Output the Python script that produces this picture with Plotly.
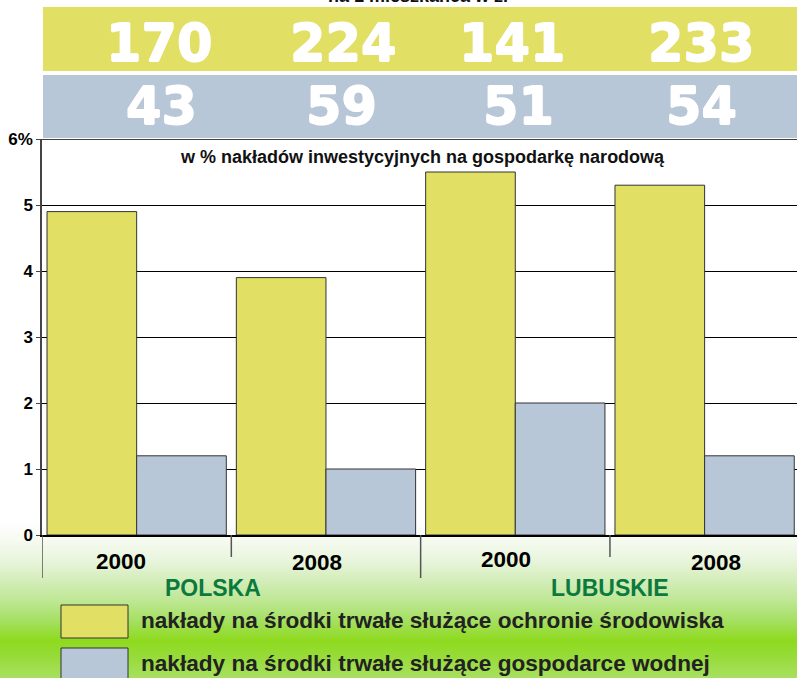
import plotly.graph_objects as go

# ---------------- data ----------------
regions = ["POLSKA", "LUBUSKIE"]
years = ["2000", "2008", "2000", "2008"]
series_names = [
    "nakłady na środki trwałe służące ochronie środowiska",
    "nakłady na środki trwałe służące gospodarce wodnej",
]
env_pct = [4.9, 3.9, 5.5, 5.3]
water_pct = [1.2, 1.0, 2.0, 1.2]
env_per_capita = [170, 224, 141, 233]
water_per_capita = [43, 59, 51, 54]
y_tickvals = [0, 1, 2, 3, 4, 5, 6]
y_ticktext = ["0", "1", "2", "3", "4", "5", "6%"]
subtitle = "w % nakładów inwestycyjnych na gospodarkę narodową"
top_title = "na 1 mieszkańca w zł"

# ---------------- style ----------------
YELLOW = "#e1e064"
BLUE = "#b8c7d8"
GREEN_TXT = "#0b7a3e"
W, H = 797, 678
L, R, T, B = 42, 797, 139, 535
PW, PH = R - L, B - T
FONT = "Liberation Sans"
THICK = "0.7px 0 0 white, -0.7px 0 0 white, 0 0.7px 0 white, 0 -0.7px 0 white"


def xp(px):
    return (px - L) / PW


def yp(py):
    return (B - py) / PH


x = list(range(len(years)))

fig = go.Figure()
fig.add_trace(go.Bar(x=x, y=env_pct, name=series_names[0], marker_color=YELLOW,
                     marker_line_color="#333333", marker_line_width=1))
fig.add_trace(go.Bar(x=x, y=water_pct, name=series_names[1], marker_color=BLUE,
                     marker_line_color="#333333", marker_line_width=1))

shapes = []
# background gradient at bottom
stops = [(522, (255, 255, 255)), (540, (246, 250, 240)), (560, (232, 245, 220)),
         (580, (212, 237, 186)), (600, (190, 231, 148)), (620, (165, 224, 98)),
         (640, (143, 218, 30)), (655, (150, 219, 55)), (678, (168, 224, 96))]
for py in range(stops[0][0], H):
    for (a, ca), (b, cb) in zip(stops[:-1], stops[1:]):
        if a <= py <= b:
            t = (py - a) / (b - a)
            c = tuple(round(ca[i] + (cb[i] - ca[i]) * t) for i in range(3))
            break
    shapes.append(dict(type="rect", xref="paper", yref="paper", layer="below",
                       x0=xp(0), x1=xp(W), y0=yp(py + 1), y1=yp(py),
                       fillcolor="rgb(%d,%d,%d)" % c, line_width=0))

# header bands
shapes.append(dict(type="rect", xref="paper", yref="paper", x0=xp(43), x1=xp(W),
                   y0=yp(71), y1=yp(7), fillcolor=YELLOW, line_width=0))
shapes.append(dict(type="rect", xref="paper", yref="paper", x0=xp(43), x1=xp(W),
                   y0=yp(138), y1=yp(75), fillcolor=BLUE, line_width=0))
# top border line at 6
shapes.append(dict(type="line", xref="paper", yref="y", x0=0, x1=1, y0=6, y1=6,
                   line=dict(color="black", width=1.5)))
# category separators below the axis
sep_len = [578, 557, 578, 557]
for i, ylen in enumerate(sep_len):
    shapes.append(dict(type="line", xref="x", yref="paper", x0=i - 0.5, x1=i - 0.5,
                       y0=yp(B), y1=yp(ylen), line=dict(color="#555555", width=1.5)))
# legend boxes
shapes.append(dict(type="rect", xref="paper", yref="paper", x0=xp(61), x1=xp(128),
                   y0=yp(638), y1=yp(605), fillcolor=YELLOW,
                   line=dict(color="#333333", width=1)))
shapes.append(dict(type="rect", xref="paper", yref="paper", x0=xp(61), x1=xp(128),
                   y0=yp(692), y1=yp(648), fillcolor=BLUE,
                   line=dict(color="#333333", width=1)))

ann = []
# per-capita numbers in header bands
top_shift = [22, 17, -3, -4]
bot_shift = [25, 16, 3, -3]
num_font = dict(family="DejaVu Sans", size=51, color="white", weight="bold", shadow=THICK)
for i in x:
    ann.append(dict(x=i, xref="x", y=yp(43), yref="paper", text=str(env_per_capita[i]),
                    showarrow=False, xshift=top_shift[i], yanchor="middle", font=num_font))
    ann.append(dict(x=i, xref="x", y=yp(107), yref="paper", text=str(water_per_capita[i]),
                    showarrow=False, xshift=bot_shift[i], yanchor="middle", font=num_font))
# year labels
year_shift = [-16, -9, -9, 11]
year_y = [561, 562, 559, 562]
for i in x:
    ann.append(dict(x=i, xref="x", y=yp(year_y[i]), yref="paper", text=years[i],
                    showarrow=False, xshift=year_shift[i], yanchor="middle",
                    font=dict(family=FONT, size=22.5, color="black", weight="bold")))
# region labels
reg_shift = [-18, 0]
for j, r in enumerate(regions):
    ann.append(dict(x=2 * j + 0.5, xref="x", y=yp(588), yref="paper", text=r,
                    showarrow=False, xshift=reg_shift[j], yanchor="middle",
                    font=dict(family=FONT, size=23, color=GREEN_TXT, weight="bold")))
# subtitle
ann.append(dict(x=xp(422), xref="paper", y=yp(157), yref="paper", text=subtitle,
                showarrow=False, yanchor="middle",
                font=dict(family=FONT, size=18, color="#111111", weight="bold")))
# cut-off header title (only its lower edge shows, as in the original)
ann.append(dict(x=xp(418), xref="paper", y=yp(-4), yref="paper", text=top_title,
                showarrow=False, yanchor="middle",
                font=dict(family=FONT, size=18, color="#111111", weight="bold")))
# legend texts
for k, (name, py) in enumerate(zip(series_names, [620, 663])):
    ann.append(dict(x=xp(139), xref="paper", y=yp(py), yref="paper", text=name,
                    showarrow=False, xanchor="left", yanchor="middle",
                    font=dict(family=FONT, size=22.6, color="#222222", weight="bold")))

fig.update_layout(
    width=W, height=H, autosize=False,
    margin=dict(l=L, r=W - R, t=T, b=H - B, pad=0),
    paper_bgcolor="white", plot_bgcolor="rgba(0,0,0,0)",
    barmode="group", bargap=0.053, bargroupgap=0,
    showlegend=False,
    shapes=shapes, annotations=ann,
    xaxis=dict(range=[-0.5, 3.488], showticklabels=False, ticks="", showgrid=False,
               zeroline=False, showline=True, linecolor="black", linewidth=2),
    yaxis=dict(range=[0, 6], tickvals=y_tickvals, ticktext=y_ticktext,
               showgrid=True, gridcolor="black", gridwidth=1, zeroline=False,
               showline=True, linecolor="#444444", linewidth=1.5,
               ticks="outside", ticklen=4, tickcolor="#444444",
               tickfont=dict(family=FONT, size=17, color="black", weight="bold")),
)

fig.write_html("out.html", config={"displayModeBar": False},
               post_script="document.body.style.margin='0';")
